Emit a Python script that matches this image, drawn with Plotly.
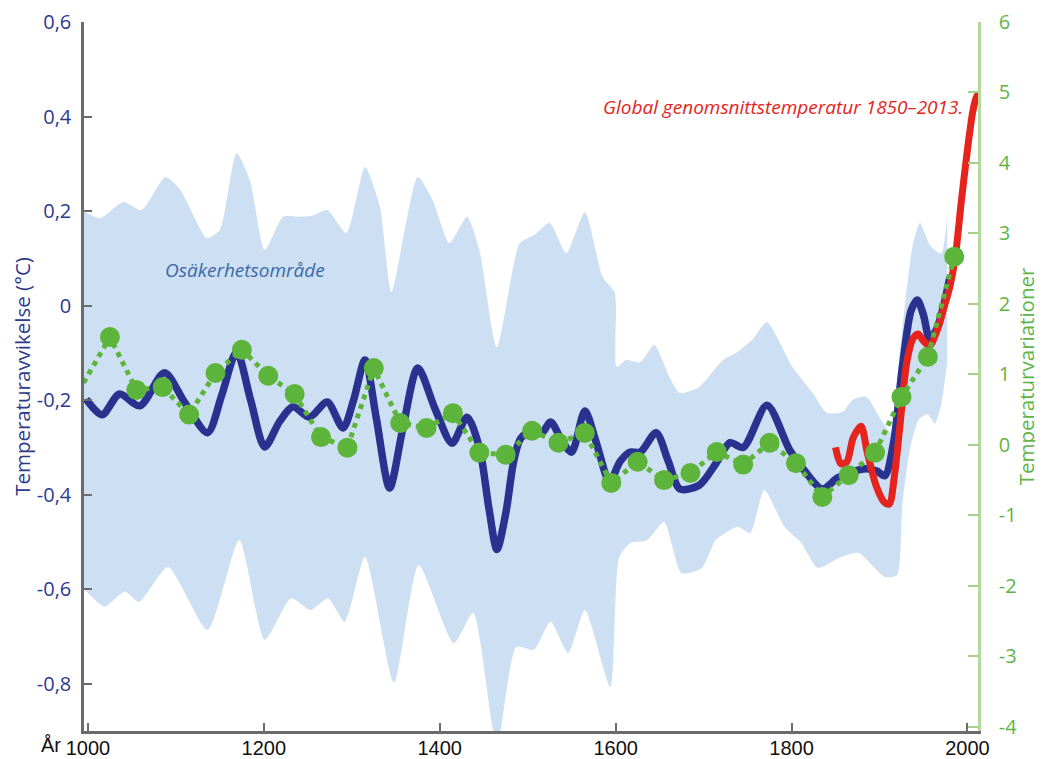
import plotly.graph_objects as go

# ---------------- data ----------------
blue_years = [998, 1016, 1036, 1059, 1087, 1110, 1136, 1152, 1169, 1185, 1201, 1218, 1233, 1252,
              1272, 1290, 1302, 1315, 1328, 1343, 1358, 1375, 1395, 1414, 1431, 1445, 1456, 1465,
              1475, 1484, 1492, 1506, 1516, 1526, 1540, 1550, 1565, 1578, 1593, 1605, 1616, 1628,
              1646, 1660, 1673, 1695, 1714, 1730, 1745, 1772, 1798, 1815, 1835, 1852, 1868, 1885,
              1897, 1906, 1916, 1926, 1936, 1943, 1950, 1957, 1965, 1973, 1980]
blue_vals = [-0.198, -0.231, -0.187, -0.212, -0.142, -0.205, -0.269, -0.19, -0.098, -0.2, -0.299,
             -0.245, -0.214, -0.236, -0.204, -0.259, -0.2, -0.115, -0.24, -0.386, -0.26, -0.132,
             -0.22, -0.291, -0.236, -0.3, -0.43, -0.516, -0.44, -0.33, -0.281, -0.262, -0.27,
             -0.246, -0.29, -0.31, -0.223, -0.29, -0.372, -0.33, -0.31, -0.31, -0.269, -0.33,
             -0.388, -0.38, -0.334, -0.29, -0.30, -0.211, -0.306, -0.35, -0.388, -0.365, -0.352,
             -0.345, -0.35, -0.36, -0.29, -0.13, -0.01, 0.012, -0.02, -0.07, -0.05, 0.0, 0.06]

red_years = [1850, 1856, 1863, 1870, 1879, 1886, 1896, 1905, 1911, 1917, 1924, 1931, 1938, 1944,
             1950, 1957, 1966, 1974, 1980, 1986, 1993, 2000, 2006, 2010, 2013]
red_vals = [-0.30, -0.335, -0.33, -0.28, -0.255, -0.31, -0.38, -0.415, -0.42, -0.36, -0.24, -0.12,
            -0.07, -0.06, -0.075, -0.085, -0.05, 0.0, 0.04, 0.10, 0.22, 0.33, 0.41, 0.44, 0.45]

green_years = [995, 1025, 1055, 1085, 1115, 1145, 1175, 1205, 1235, 1265, 1295, 1325, 1355, 1385,
               1415, 1445, 1475, 1505, 1535, 1565, 1595, 1625, 1655, 1685, 1715, 1745, 1775, 1805,
               1835, 1865, 1895, 1925, 1955, 1985]
green_vals = [0.88, 1.53, 0.78, 0.82, 0.43, 1.02, 1.35, 0.98, 0.72, 0.11, -0.04, 1.09, 0.31, 0.24,
              0.45, -0.11, -0.14, 0.20, 0.03, 0.17, -0.54, -0.24, -0.50, -0.40, -0.10, -0.28, 0.03,
              -0.26, -0.74, -0.43, -0.11, 0.68, 1.25, 2.67]

band_upper_years = [995, 999, 1014, 1040, 1061, 1088, 1105, 1135, 1150, 1169, 1184, 1201, 1222, 1241,
                    1255, 1272, 1294, 1315, 1332, 1345, 1375, 1392, 1411, 1431, 1445, 1465, 1491,
                    1508, 1525, 1544, 1565, 1585, 1599, 1601, 1612, 1628, 1644, 1661, 1673, 1695,
                    1722, 1737, 1755, 1772, 1801, 1824, 1840, 1858, 1869, 1885, 1900, 1914, 1922,
                    1930, 1938, 1946, 1958, 1970, 1977]
band_upper = [0.20, 0.196, 0.185, 0.219, 0.202, 0.272, 0.245, 0.143, 0.16, 0.323, 0.266, 0.118,
              0.188, 0.188, 0.19, 0.202, 0.153, 0.293, 0.209, 0.029, 0.272, 0.223, 0.132, 0.188,
              0.118, -0.088, 0.132, 0.15, 0.175, 0.111, 0.198, 0.061, 0.027, -0.13, -0.115, -0.12,
              -0.083, -0.151, -0.185, -0.172, -0.115, -0.1, -0.073, -0.035, -0.13, -0.185, -0.227,
              -0.225, -0.2, -0.193, -0.236, -0.27, -0.12, 0.02, 0.13, 0.175, 0.126, 0.11, 0.19]

band_lower_years = [995, 1000, 1019, 1042, 1058, 1091, 1136, 1172, 1201, 1231, 1253, 1273, 1292,
                    1315, 1348, 1376, 1416, 1438, 1465, 1487, 1507, 1526, 1546, 1565, 1594, 1604,
                    1617, 1636, 1655, 1675, 1698, 1714, 1739, 1753, 1769, 1792, 1811, 1830, 1856,
                    1876, 1906, 1920, 1926, 1935, 1945, 1955, 1963, 1970, 1977]
band_lower = [-0.60, -0.608, -0.637, -0.605, -0.627, -0.553, -0.686, -0.496, -0.707, -0.619, -0.644,
              -0.619, -0.669, -0.532, -0.798, -0.549, -0.714, -0.65, -0.93, -0.722, -0.728, -0.669,
              -0.735, -0.644, -0.807, -0.532, -0.502, -0.496, -0.458, -0.566, -0.555, -0.496,
              -0.468, -0.481, -0.39, -0.468, -0.502, -0.555, -0.532, -0.523, -0.574, -0.57, -0.42,
              -0.30, -0.24, -0.23, -0.25, -0.21, -0.12]

x_ticks = [1000, 1200, 1400, 1600, 1800, 2000]
x_ticktext = ["1000", "1200", "1400", "1600", "1800", "2000"]
left_ticks = [-0.8, -0.6, -0.4, -0.2, 0, 0.2, 0.4, 0.6]
left_ticktext = ["-0,8", "-0,6", "-0,4", "-0,2", "0", "0,2", "0,4", "0,6"]
right_ticks = [-4, -3, -2, -1, 0, 1, 2, 3, 4, 5, 6]
right_ticktext = ["-4", "-3", "-2", "-1", "0", "1", "2", "3", "4", "5", "6"]

# ---------------- styles ----------------
BAND = "#cddff2"
BLUE = "#2a3290"
RED = "#e5241d"
GREEN = "#5db43b"
AXIS_GREY = "#6b6b6b"
AXIS_GREEN = "#b5d99c"
TXT_BLUE = "#2e3a8c"
TXT_GREEN = "#5fb446"
FONT = "Open Sans, Noto Sans, sans-serif"
NARROW = "Liberation Sans Narrow, Liberation Sans, sans-serif"

fig = go.Figure()

fig.add_trace(go.Scatter(x=band_lower_years, y=band_lower, mode="lines",
                         line=dict(width=0, color=BAND, shape="spline", smoothing=0.6),
                         hoverinfo="skip", showlegend=False))
fig.add_trace(go.Scatter(x=band_upper_years, y=band_upper, mode="lines", fill="tonexty",
                         fillcolor=BAND,
                         line=dict(width=0, color=BAND, shape="spline", smoothing=0.6),
                         hoverinfo="skip", showlegend=False))

fig.add_trace(go.Scatter(x=blue_years, y=blue_vals, mode="lines",
                         line=dict(color=BLUE, width=7.5, shape="spline", smoothing=0.8),
                         showlegend=False))
fig.add_trace(go.Scatter(x=red_years, y=red_vals, mode="lines",
                         line=dict(color=RED, width=7, shape="spline", smoothing=0.8),
                         showlegend=False))

marker_sizes = [0] + [20] * (len(green_years) - 1)
fig.add_trace(go.Scatter(x=green_years, y=green_vals, yaxis="y2", mode="lines+markers",
                         line=dict(color=GREEN, width=5, dash="dot"),
                         marker=dict(color=GREEN, size=marker_sizes, opacity=1,
                                     line=dict(width=0)),
                         showlegend=False))

fig.add_annotation(x=1178, y=0.075, xref="x", yref="y", text="<i>Osäkerhetsområde</i>",
                   showarrow=False, font=dict(family=FONT, size=19, color="#3b6aa6"))
fig.add_annotation(x=1997, y=0.42, xref="x", yref="y", xanchor="right",
                   text="<i>Global genomsnittstemperatur 1850–2013.</i>",
                   showarrow=False, font=dict(family=FONT, size=19, color=RED))
fig.add_annotation(x=1000, y=0, xref="x", yref="paper", xanchor="right", yanchor="top",
                   xshift=-25, yshift=-1, text="År", showarrow=False,
                   font=dict(family=NARROW, size=20, color="#111111"))

# the page body adds an 8 px offset, so the figure is 8 px smaller than the window
fig.update_layout(
    width=1035, height=751,
    margin=dict(l=76, r=65, t=14, b=28),
    paper_bgcolor="white", plot_bgcolor="white",
    showlegend=False,
    xaxis=dict(range=[995.5, 2012], tickvals=x_ticks, ticktext=x_ticktext, automargin=False,
               showgrid=False, zeroline=False, showline=True, linecolor=AXIS_GREY,
               linewidth=2.5, ticks="inside", ticklen=8, tickwidth=2, tickcolor=AXIS_GREY,
               ticklabelstandoff=-3,
               tickfont=dict(family=NARROW, size=20, color="#111111")),
    yaxis=dict(range=[-0.9, 0.6], tickvals=left_ticks, ticktext=left_ticktext, automargin=False,
               showgrid=False, zeroline=False, showline=True, linecolor=AXIS_GREY,
               linewidth=2.5, ticks="inside", ticklen=8, tickwidth=2, tickcolor=AXIS_GREY,
               ticklabelstandoff=6,
               tickfont=dict(family=FONT, size=20, color=TXT_BLUE),
               title=dict(text="Temperaturavvikelse (°C)", standoff=2,
                          font=dict(family=FONT, size=20.5, color=TXT_BLUE))),
    yaxis2=dict(range=[-4.06, 6], overlaying="y", side="right", anchor="x", automargin=False,
                tickvals=right_ticks, ticktext=right_ticktext,
                showgrid=False, zeroline=False, showline=True, linecolor=AXIS_GREEN,
                linewidth=2.5, ticks="inside", ticklen=10, tickwidth=2, tickcolor="#a6cf8c",
                ticklabelstandoff=14,
                tickfont=dict(family=FONT, size=20, color=TXT_GREEN),
                title=dict(text="Temperaturvariationer", standoff=4,
                           font=dict(family=FONT, size=20.5, color=TXT_GREEN))),
)

fig.write_html("out.html")
